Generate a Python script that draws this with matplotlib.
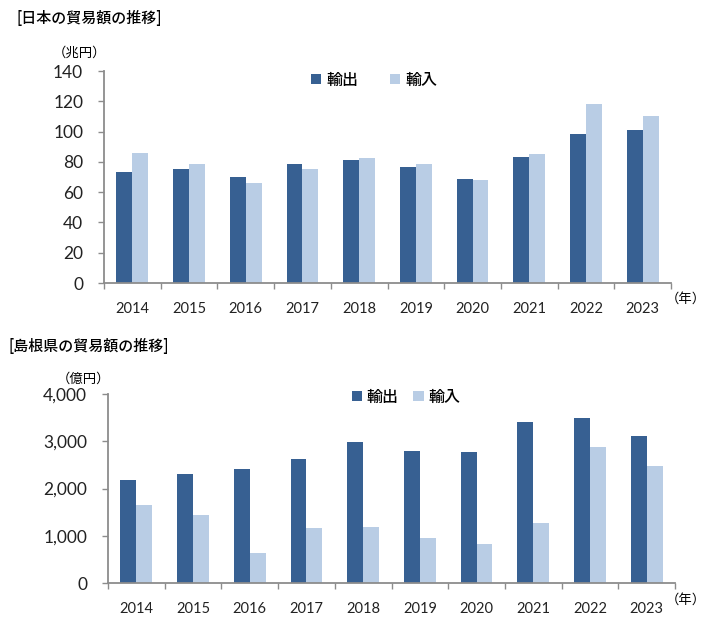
import numpy as np
import matplotlib.pyplot as plt
from matplotlib.ticker import FuncFormatter, FixedLocator

plt.rcParams['font.family'] = ['Lato', 'Noto Sans CJK JP', 'DejaVu Sans']
jp = ['Noto Sans CJK JP', 'DejaVu Sans']

years = ['2014', '2015', '2016', '2017', '2018', '2019', '2020', '2021', '2022', '2023']

# 日本 (兆円)
japan_export = [73.1, 75.6, 70.0, 78.3, 81.5, 76.9, 68.4, 83.1, 98.2, 100.9]
japan_import = [85.9, 78.4, 66.0, 75.4, 82.7, 78.6, 68.0, 84.9, 118.5, 110.2]

# 島根県 (億円)
shimane_export = [2180, 2300, 2420, 2617, 2977, 2794, 2780, 3414, 3492, 3118]
shimane_import = [1651, 1446, 635, 1171, 1192, 952, 832, 1263, 2871, 2476]

c_exp = '#376092'
c_imp = '#B9CDE5'
c_axis = '#8C8C8C'
W, H = 709, 633

fig = plt.figure(figsize=(W / 100, H / 100), dpi=100)


def draw(rect, exp, imp, ymax, ystep, fmt, leg_center, col_space):
    ax = fig.add_axes(rect)
    x = np.arange(len(years))
    w = 0.28
    b1 = ax.bar(x - w / 2, exp, w, color=c_exp, label='輸出')
    b2 = ax.bar(x + w / 2, imp, w, color=c_imp, label='輸入')
    ax.set_xlim(-0.5, len(years) - 0.5)
    ax.set_ylim(0, ymax)
    ax.set_yticks(np.arange(0, ymax + 1, ystep))
    ax.yaxis.set_major_formatter(FuncFormatter(fmt))
    ax.set_xticks(x)
    ax.set_xticklabels(years)
    ax.xaxis.set_minor_locator(FixedLocator(np.arange(-0.5, len(years), 1.0)))
    ax.tick_params(axis='x', which='major', length=0, pad=14, labelsize=10.5, colors='#222222')
    ax.tick_params(axis='x', which='minor', length=4, color=c_axis, width=1)
    ax.tick_params(axis='y', length=4, color=c_axis, width=1, pad=11, labelsize=12.5,
                   labelcolor='#222222')
    for s in ['top', 'right']:
        ax.spines[s].set_visible(False)
    for s in ['left', 'bottom']:
        ax.spines[s].set_color(c_axis)
        ax.spines[s].set_linewidth(1.3)
    fig.legend(handles=[b1, b2], loc='center',
               bbox_to_anchor=(leg_center[0] / W, 1 - leg_center[1] / H),
               ncol=2, frameon=False, prop={'family': jp, 'size': 11.5, 'weight': 'medium'},
               handlelength=0.65, handleheight=0.65,
               handletextpad=0.3, columnspacing=col_space, borderpad=0)
    return ax


draw([104 / W, 1 - 283 / H, 567 / W, 212 / H], japan_export, japan_import, 140, 20,
     lambda v, p: f'{v:.0f}', (374, 80), 2.0)
draw([108 / W, 1 - 583 / H, 567 / W, 189 / H], shimane_export, shimane_import, 4000, 1000,
     lambda v, p: f'{v:,.0f}', (406, 397), 0.9)

fig.text(16 / W, 1 - 19 / H, '[日本の貿易額の推移]', fontsize=10.8, va='center', ha='left',
         family=jp, weight='medium')
fig.text(9 / W, 1 - 346 / H, '[島根県の貿易額の推移]', fontsize=10.8, va='center', ha='left',
         family=jp, weight='medium')
fig.text(79 / W, 1 - 53 / H, '（兆円）', fontsize=9.6, va='center', ha='center', family=jp)
fig.text(83 / W, 1 - 379 / H, '（億円）', fontsize=9.6, va='center', ha='center', family=jp)
fig.text(686 / W, 1 - 299 / H, '（年）', fontsize=9.6, va='center', ha='center', family=jp)
fig.text(686 / W, 1 - 600 / H, '（年）', fontsize=9.6, va='center', ha='center', family=jp)

fig.savefig('out.png', dpi=100, facecolor='white')
